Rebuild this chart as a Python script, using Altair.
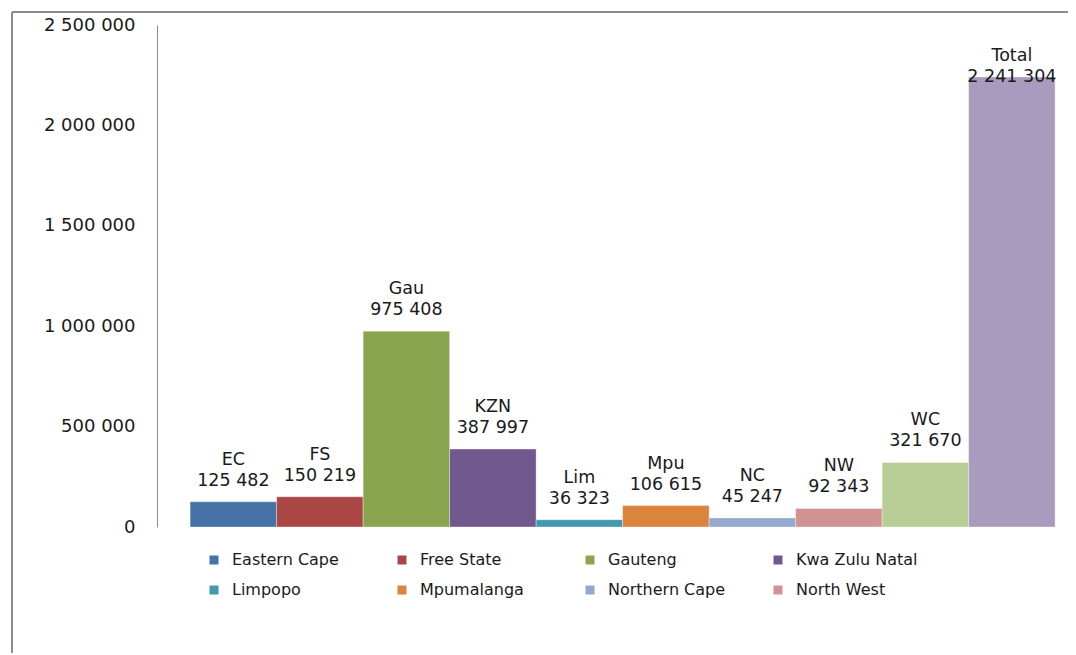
import altair as alt
import pandas as pd

series = ["Eastern Cape", "Free State", "Gauteng", "Kwa Zulu Natal", "Limpopo",
          "Mpumalanga", "Northern Cape", "North West", "Western Cape", "Total"]
abbrev = ["EC", "FS", "Gau", "KZN", "Lim", "Mpu", "NC", "NW", "WC", "Total"]
values = [125482, 150219, 975408, 387997, 36323, 106615, 45247, 92343, 321670, 2241304]
colors = ["#4572A7", "#AA4643", "#89A54E", "#71588F", "#4198AF",
          "#DB843D", "#93A9CF", "#D19392", "#B9CD96", "#A99BBD"]
legend_values = series[:8]
y_ticks = [0, 500000, 1000000, 1500000, 2000000, 2500000]

df = pd.DataFrame({
    "series": series,
    "abbrev": abbrev,
    "value": values,
    "num": [f"{v:,}".replace(",", " ") for v in values],
})

FONT = "DejaVu Sans"
TXT = "#1a1a1a"

x_enc = alt.X("series:N", sort=series, axis=None,
              scale=alt.Scale(paddingInner=0, paddingOuter=0.266, align=0.72))
y_scale = alt.Scale(domain=[0, 2500000], nice=False)

bars = alt.Chart(df).mark_bar(strokeWidth=1, strokeOpacity=0.35, stroke="white").encode(
    x=x_enc,
    y=alt.Y("value:Q", scale=y_scale, title=None,
            axis=alt.Axis(values=y_ticks, grid=False, ticks=False, domain=True,
                          domainColor="#8c8c8c", domainWidth=1,
                          labelExpr="replace(replace(format(datum.value, ','), ',', ' '), ',', ' ')",
                          labelFont=FONT, labelFontSize=18, labelColor=TXT,
                          labelPadding=22)),
    color=alt.Color("series:N", sort=series,
                    scale=alt.Scale(domain=series, range=colors),
                    legend=alt.Legend(values=legend_values, title=None, orient="none",
                                      legendX=49, legendY=527, columns=4, direction="horizontal",
                                      gridAlign="all", symbolType="square", symbolSize=81,
                                      symbolStrokeWidth=0, labelFont=FONT, labelFontSize=16,
                                      labelColor=TXT, columnPadding=40, rowPadding=14,
                                      labelOffset=10)),
)

base_txt = alt.Chart(df).transform_calculate(
    ly="min(datum.value, 2134000)"
)

num_text = base_txt.mark_text(baseline="middle", dy=-21, font=FONT, fontSize=17.5,
                              color=TXT).encode(
    x=alt.X("series:N", sort=series), y=alt.Y("ly:Q", scale=y_scale), text="num:N")

abbr_text = base_txt.mark_text(baseline="middle", dy=-42, font=FONT, fontSize=17.5,
                               color=TXT).encode(
    x=alt.X("series:N", sort=series), y=alt.Y("ly:Q", scale=y_scale), text="abbrev:N")

border_top = alt.Chart(df).mark_rule(color="#8c8c8c", strokeWidth=2).encode(
    x=alt.value(-145), x2=alt.value(960), y=alt.value(-13))
border_left = alt.Chart(df).mark_rule(color="#8c8c8c", strokeWidth=2).encode(
    x=alt.value(-145), y=alt.value(-13), y2=alt.value(660))

chart = alt.layer(bars, num_text, abbr_text, border_top, border_left).properties(
    width=911, height=502,
    padding={"left": 149, "top": 17, "right": 0, "bottom": 126},
    autosize=alt.AutoSizeParams(type="none"),
).configure_view(stroke=None)

chart.save("out.html", embed_options={"renderer": "svg", "actions": False})
